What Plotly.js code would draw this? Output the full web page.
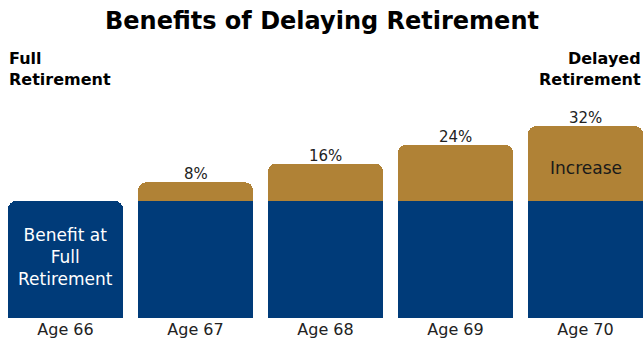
<!DOCTYPE html>
<html><head><meta charset="utf-8">
<script src="https://cdn.plot.ly/plotly-3.0.1.min.js"></script>
<style>html,body{margin:0;padding:0;background:#fff}#chart{width:644px;height:341px}</style>
</head><body><div id="chart"></div>
<script>
const categories = ["Age 66", "Age 67", "Age 68", "Age 69", "Age 70"];
const baseBenefit = [50, 50, 50, 50, 50];
const increase = [0, 8, 16, 24, 32];
const increaseLabels = ["", "8%", "16%", "24%", "32%"];

const blue = "#003B79";
const gold = "#B08236";
const FONT = "DejaVu Sans";

const traces = [
  {type: "bar", x: categories, y: baseBenefit, marker: {color: blue}, hoverinfo: "none", name: "Benefit"},
  {type: "bar", x: categories, y: increase, marker: {color: gold}, hoverinfo: "none", name: "Increase"}
];

const annotations = [];
categories.forEach((c, i) => {
  if (increaseLabels[i]) {
    annotations.push({x: c, y: baseBenefit[i] + increase[i], text: increaseLabels[i], showarrow: false,
      yanchor: "bottom", yshift: -3, font: {family: FONT, size: 15, color: "#222"}});
  }
});
annotations.push({x: categories[0], y: baseBenefit[0] / 2 + 1, text: "Benefit at<br>Full<br>Retirement", showarrow: false,
  font: {family: FONT, size: 17, color: "#fff"}, align: "center"});
annotations.push({x: categories[4], y: baseBenefit[4] + increase[4] / 2 - 2, text: "Increase", showarrow: false,
  font: {family: FONT, size: 17, color: "#1a1a1a"}});
annotations.push({xref: "paper", yref: "paper", x: 0, y: 1, text: "<b>Full<br>Retirement</b>", xanchor: "left", yanchor: "top",
  align: "left", showarrow: false, xshift: 7, yshift: 8, font: {family: FONT, size: 16, color: "#000"}});
annotations.push({xref: "paper", yref: "paper", x: 1, y: 1, text: "<b>Delayed<br>Retirement</b>", xanchor: "right", yanchor: "top",
  align: "right", showarrow: false, xshift: -1, yshift: 8, font: {family: FONT, size: 16, color: "#000"}});

const layout = {
  width: 644, height: 341,
  margin: {l: 0, r: 0, t: 55, b: 23},
  barmode: "stack",
  bargap: 0.115,
  barcornerradius: 8,
  showlegend: false,
  paper_bgcolor: "#fff", plot_bgcolor: "#fff",
  title: {text: "<b>Benefits of Delaying Retirement</b>", x: 0.5, xanchor: "center", y: 0.94, yanchor: "middle",
    font: {family: FONT, size: 24, color: "#000"}},
  xaxis: {range: [-0.504, 4.45], showgrid: false, zeroline: false, showline: false, ticks: "",
    tickfont: {family: FONT, size: 16, color: "#222"}, fixedrange: true},
  yaxis: {range: [0, 112.4], visible: false, fixedrange: true},
  annotations: annotations
};
Plotly.newPlot("chart", traces, layout, {displayModeBar: false, staticPlot: true});
</script></body></html>
